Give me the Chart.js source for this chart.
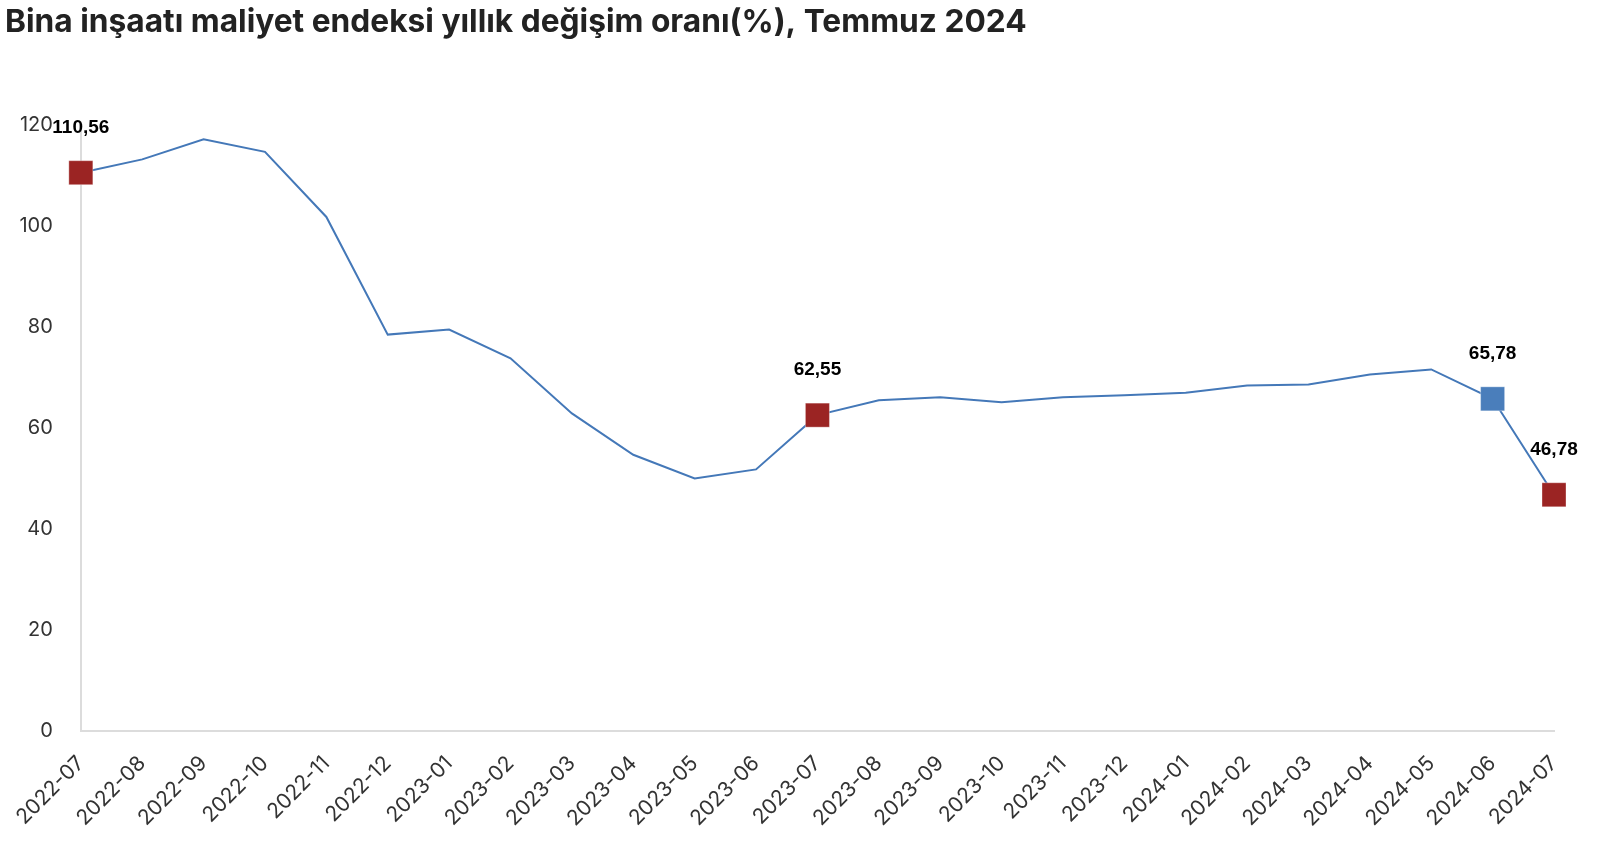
<!DOCTYPE html>
<html>
<head>
<meta charset="utf-8">
<script src="https://cdn.jsdelivr.net/npm/chart.js@4/dist/chart.umd.min.js"></script>
<style>
    html, body { margin: 0; padding: 0; background: #fff; }
    #wrap { width: 1600px; height: 850px; }
</style>
</head>
<body>
<div id="wrap"><canvas id="costChart" width="1600" height="850"></canvas></div>
<script>
// Bina inşaatı maliyet endeksi - yıllık değişim (%)
const months = [
    '2022-07', '2022-08', '2022-09', '2022-10', '2022-11', '2022-12',
    '2023-01', '2023-02', '2023-03', '2023-04', '2023-05', '2023-06',
    '2023-07', '2023-08', '2023-09', '2023-10', '2023-11', '2023-12',
    '2024-01', '2024-02', '2024-03', '2024-04', '2024-05', '2024-06', '2024-07'
];
const yearlyChange = [
    110.56, 113.2, 117.2, 114.7, 101.8, 78.5,
    79.5, 73.8, 62.9, 54.7, 50.0, 51.8,
    62.55, 65.5, 66.1, 65.1, 66.1, 66.5,
    67.0, 68.4, 68.6, 70.6, 71.6, 65.78, 46.78
];
// highlighted points (index -> colour)
const markedIdx = [0, 12, 23, 24];
const markedColor = ['#9B2423', '#9B2423', '#4A7EBB', '#9B2423'];
const yTicks = [0, 20, 40, 60, 80, 100, 120];

const LINE_BLUE = '#4478B8';

const pointRadius = yearlyChange.map((v, i) => markedIdx.includes(i) ? 17 : 0);
const pointColors = yearlyChange.map((v, i) => {
    const k = markedIdx.indexOf(i);
    return k >= 0 ? markedColor[k] : LINE_BLUE;
});

// value labels above highlighted points
const valueLabels = {
    id: 'valueLabels',
    afterDatasetsDraw: (chart) => {
        const meta = chart.getDatasetMeta(0);
        const ctx = chart.ctx;
        ctx.save();
        ctx.font = 'bold 19px "Liberation Sans", Arial, sans-serif';
        ctx.fillStyle = '#000';
        ctx.textAlign = 'center';
        ctx.textBaseline = 'middle';
        markedIdx.forEach(i => {
            const pt = meta.data[i];
            const txt = yearlyChange[i].toFixed(2).replace('.', ',');
            ctx.fillText(txt, pt.x, pt.y - 45);
        });
        ctx.restore();
    }
};

new Chart(document.getElementById('costChart'), {
    type: 'line',
    data: {
        labels: months,
        datasets: [{
            data: yearlyChange,
            borderColor: LINE_BLUE,
            borderWidth: 2,
            tension: 0,
            fill: false,
            pointStyle: 'rect',
            pointRadius: pointRadius,
            pointHoverRadius: pointRadius,
            pointBackgroundColor: pointColors,
            pointBorderColor: 'rgba(255,255,255,0.35)',
            pointBorderWidth: 1,
            clip: false
        }]
    },
    plugins: [valueLabels],
    options: {
        responsive: false,
        animation: false,
        layout: { padding: { left: 5, right: 46, top: 0, bottom: 0 } },
        plugins: {
            legend: { display: false },
            tooltip: { enabled: false },
            title: {
                display: true,
                text: 'Bina inşaatı maliyet endeksi yıllık değişim oranı(%), Temmuz 2024',
                align: 'start',
                color: '#222',
                font: { family: 'Inter', size: 31.7, weight: 'bold', lineHeight: 1.2 },
                padding: { top: 3, bottom: 84 }
            }
        },
        scales: {
            x: {
                offset: false,
                grid: { display: false, drawTicks: false },
                border: { display: true, color: '#DCDCDC', width: 2 },
                ticks: {
                    color: '#333',
                    font: { family: 'Inter', size: 21 },
                    minRotation: 45,
                    maxRotation: 45,
                    autoSkip: false,
                    padding: 20
                },
                afterFit: (scale) => { scale.height = 119; }
            },
            y: {
                min: 0,
                max: 120,
                afterBuildTicks: (scale) => { scale.ticks = yTicks.map(v => ({ value: v })); },
                grid: { display: false, drawTicks: false },
                border: { display: true, color: '#DCDCDC', width: 2 },
                ticks: {
                    color: '#333',
                    font: { family: 'Inter', size: 20 },
                    padding: 28
                },
                afterFit: (scale) => { scale.width = 75; }
            }
        }
    }
});
</script>
</body>
</html>
